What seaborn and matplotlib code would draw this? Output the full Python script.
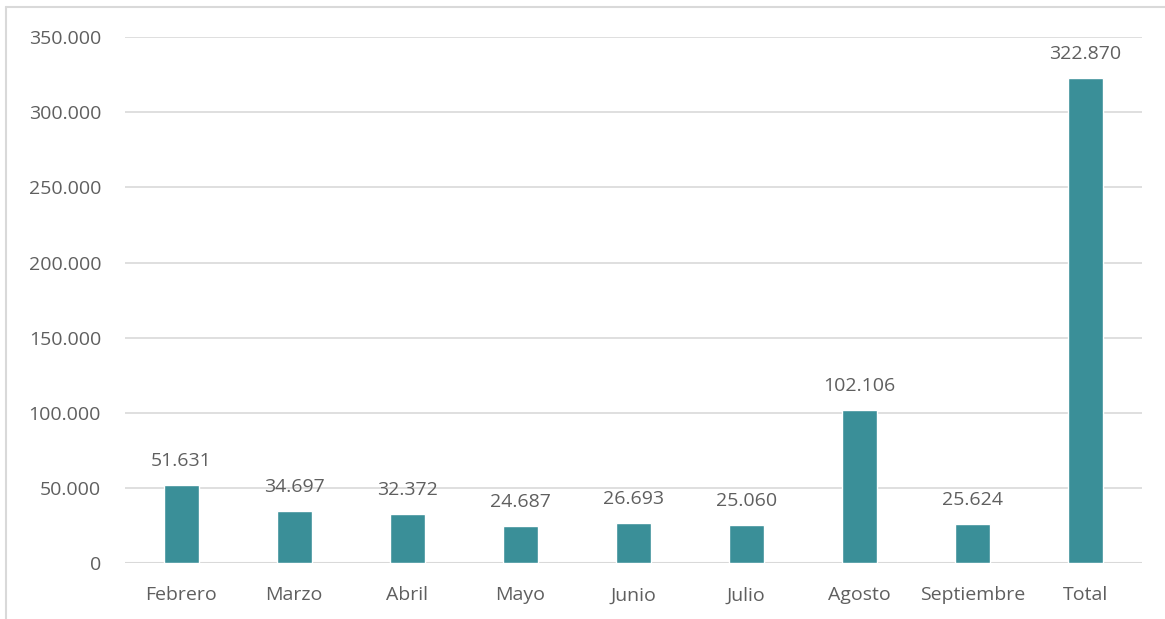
import pandas as pd
import matplotlib
matplotlib.use("Agg")
import matplotlib.pyplot as plt
from matplotlib.lines import Line2D
from matplotlib.ticker import FuncFormatter
import seaborn as sns

meses = ['Febrero', 'Marzo', 'Abril', 'Mayo', 'Junio', 'Julio', 'Agosto', 'Septiembre', 'Total']
valores = [51631, 34697, 32372, 24687, 26693, 25060, 102106, 25624, 322870]
y_ticks = [0, 50000, 100000, 150000, 200000, 250000, 300000, 350000]


def fmt_miles(v):
    """Format a number with dots as thousands separator."""
    return f"{int(round(v)):,}".replace(',', '.')


def main():
    sns.set_style('white')
    plt.rcParams['font.family'] = ['Open Sans', 'DejaVu Sans']
    text_color = '#5f5f5f'
    bar_color = '#3A8F98'

    df = pd.DataFrame({'mes': meses, 'valor': valores})

    fig = plt.figure(figsize=(11.65, 6.19), dpi=100)
    ax = fig.add_axes([0.107, 0.0905, 0.873, 0.8495])

    sns.barplot(data=df, x='mes', y='valor', color=bar_color, width=0.31,
                saturation=1, ax=ax, zorder=3)

    ax.set_ylim(0, 350000)
    ax.set_xlim(-0.5, len(meses) - 0.5)
    ax.set_yticks(y_ticks)
    ax.yaxis.set_major_formatter(FuncFormatter(lambda v, p: fmt_miles(v)))
    ax.grid(axis='y', color='#D9D9D9', linewidth=1.2, zorder=0)
    ax.set_axisbelow(True)
    for side in ['top', 'right', 'left', 'bottom']:
        ax.spines[side].set_visible(False)
    ax.axhline(0, color='#D9D9D9', linewidth=1.5, zorder=1)

    ax.set_xlabel('')
    ax.set_ylabel('')
    ax.tick_params(axis='both', length=0, labelsize=14, colors=text_color)
    ax.tick_params(axis='y', pad=17)
    ax.tick_params(axis='x', pad=27)
    ax.set_xticks(range(len(meses)))
    ax.set_xticklabels(meses, va='baseline')

    # Value labels on top of each bar
    for i, v in enumerate(valores):
        ax.text(i, v + 10000, fmt_miles(v), ha='center', va='bottom',
                fontsize=14, color=text_color)

    # Light frame around the chart area
    fig.add_artist(Line2D([0.0052, 0.0052], [0.0, 0.989], transform=fig.transFigure,
                          color='#D9D9D9', linewidth=1.5))
    fig.add_artist(Line2D([0.0052, 1.0], [0.989, 0.989], transform=fig.transFigure,
                          color='#D9D9D9', linewidth=1.5))

    fig.savefig('out.png', dpi=100, facecolor='white')


if __name__ == "__main__":
    main()
